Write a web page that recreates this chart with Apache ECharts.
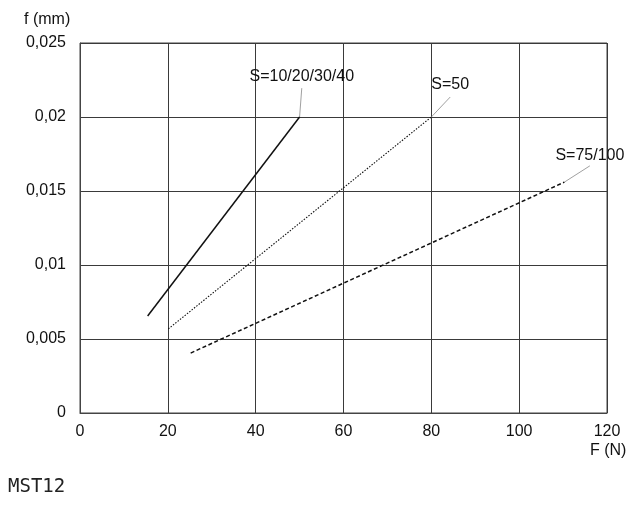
<!DOCTYPE html>
<html>
<head>
<meta charset="utf-8">
<script src="https://cdn.jsdelivr.net/npm/echarts@6/dist/echarts.min.js"></script>
<style>html,body{margin:0;padding:0;background:#fff}#c{width:642px;height:506px}</style>
</head>
<body>
<div id="c"></div>
<script>
var xTicks = [0, 20, 40, 60, 80, 100, 120];
var yTicks = [0, 0.005, 0.01, 0.015, 0.02, 0.025];
var seriesNames = ['S=10/20/30/40', 'S=50', 'S=75/100'];
var s1 = [[15.4, 0.00655], [50, 0.02]];
var s2 = [[20.1, 0.00568], [80, 0.02]];
var s3 = [[25.2, 0.00405], [110.3, 0.0156]];
var leader1 = [[50, 0.02], [50.5, 0.02195]];
var leader2 = [[80, 0.02], [84.3, 0.02135]];
var leader3 = [[110.3, 0.0156], [116.1, 0.0167]];

var chart = echarts.init(document.getElementById('c'));
var font = 'Liberation Sans, Arial, sans-serif';
function fmt(v) { return String(v).replace('.', ','); }
function leaderSeries(data, label, dist) {
  return {
    type: 'line',
    data: data.map(function (p, i) {
      return i === data.length - 1
        ? { value: p, label: { show: true, formatter: label, position: 'top', distance: dist, fontSize: 16, fontFamily: font, color: '#111' } }
        : { value: p, label: { show: false } };
    }),
    symbol: 'circle', symbolSize: 0, showSymbol: true, silent: true,
    itemStyle: { color: '#888' },
    lineStyle: { color: '#888', width: 0.8 }, z: 3
  };
}
chart.setOption({
  animation: false,
  grid: { left: 80, right: 35, top: 43, bottom: 93, show: true, borderColor: '#444', borderWidth: 1 },
  xAxis: {
    type: 'value', min: 0, max: 120, interval: 20,
    axisLine: { show: true, lineStyle: { color: '#444' } },
    axisTick: { show: false },
    axisLabel: { fontSize: 16, fontFamily: font, color: '#111', margin: 11 },
    splitLine: { show: true, lineStyle: { color: '#3a3a3a', width: 1 } }
  },
  yAxis: {
    type: 'value', min: 0, max: 0.025, interval: 0.005,
    axisLine: { show: true, lineStyle: { color: '#444' } },
    axisTick: { show: false },
    axisLabel: { fontSize: 16, fontFamily: font, color: '#111', margin: 14, formatter: fmt },
    splitLine: { show: true, lineStyle: { color: '#3a3a3a', width: 1 } }
  },
  graphic: [
    { type: 'text', left: 24, top: 12, style: { text: 'f (mm)', font: '16px ' + font, fill: '#111' } },
    { type: 'text', left: 590, top: 443, style: { text: 'F (N)', font: '16px ' + font, fill: '#111' } },
    { type: 'text', left: 8, top: 478, style: { text: 'MST12', font: '19px DejaVu Sans Mono, monospace', fill: '#222' } }
  ],
  series: [
    { name: seriesNames[0], type: 'line', data: s1, symbol: 'none', lineStyle: { color: '#111', width: 1.5, type: 'solid' }, z: 4 },
    { name: seriesNames[1], type: 'line', data: s2, symbol: 'none', lineStyle: { color: '#111', width: 1.1, type: [1.5, 1.5] }, z: 4 },
    { name: seriesNames[2], type: 'line', data: s3, symbol: 'none', lineStyle: { color: '#111', width: 1.5, type: [4, 2.5] }, z: 4 },
    leaderSeries(leader1, seriesNames[0], 4),
    leaderSeries(leader2, seriesNames[1], 4),
    leaderSeries(leader3, seriesNames[2], 2)
  ]
});
</script>
</body>
</html>
